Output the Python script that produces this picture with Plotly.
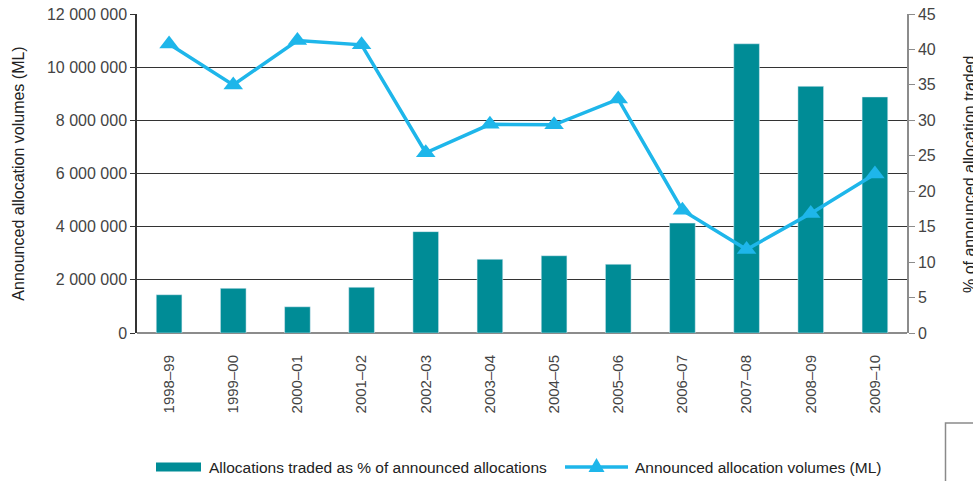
import plotly.graph_objects as go

years = ["1998–99", "1999–00", "2000–01", "2001–02", "2002–03", "2003–04",
         "2004–05", "2005–06", "2006–07", "2007–08", "2008–09", "2009–10"]
pct_traded = [5.4, 6.3, 3.7, 6.45, 14.3, 10.4, 10.9, 9.7, 15.5, 40.8, 34.8, 33.3]
volumes_ml = [10870000, 9330000, 11000000, 10840000, 6780000, 7850000,
              7830000, 8800000, 4620000, 3140000, 4500000, 5980000]

left_ticks = [0, 2000000, 4000000, 6000000, 8000000, 10000000, 12000000]
left_ticktext = ["0", "2 000 000", "4 000 000", "6 000 000", "8 000 000", "10 000 000", "12 000 000"]
right_ticks = [0, 5, 10, 15, 20, 25, 30, 35, 40, 45]

BAR_C = "#008c96"
LINE_C = "#1eb6ea"
TXT_C = "#444444"
FONT = "Liberation Sans, Arial, sans-serif"

W, H = 973, 481
L, R, T, B = 137, 66, 14, 148
PW, PH = W - L - R, H - T - B

def px(x):
    return (x - L) / PW

def py(y):
    return (H - B - y) / PH

fig = go.Figure()
fig.add_trace(go.Bar(x=years, y=pct_traded, yaxis="y", marker_color=BAR_C,
                     width=0.4, name="Allocations traded as % of announced allocations",
                     showlegend=False))
fig.add_trace(go.Scatter(x=years, y=volumes_ml, yaxis="y2", mode="lines+markers",
                         line=dict(color=LINE_C, width=3.5),
                         marker=dict(symbol="triangle-up", size=17, color=LINE_C),
                         name="Announced allocation volumes (ML)", showlegend=False))

shapes = []
annotations = []
# custom legend
ly = 467
shapes.append(dict(type="rect", xref="paper", yref="paper",
                   x0=px(156), x1=px(201), y0=py(471.5), y1=py(462.5),
                   fillcolor=BAR_C, line=dict(width=0)))
annotations.append(dict(xref="paper", yref="paper", x=px(207), y=py(ly), xanchor="left",
                        yanchor="middle", showarrow=False,
                        text="Allocations traded as % of announced allocations",
                        font=dict(family=FONT, size=15.5, color="#222")))
shapes.append(dict(type="line", xref="paper", yref="paper",
                   x0=px(565), x1=px(628), y0=py(ly), y1=py(ly),
                   line=dict(color=LINE_C, width=3.5)))
tx, tw = 596.5, 8
shapes.append(dict(type="path", xref="paper", yref="paper",
                   path=f"M {px(tx - tw)} {py(ly + 5)} L {px(tx)} {py(ly - 9)} L {px(tx + tw)} {py(ly + 5)} Z",
                   fillcolor=LINE_C, line=dict(width=0)))
annotations.append(dict(xref="paper", yref="paper", x=px(633), y=py(ly), xanchor="left",
                        yanchor="middle", showarrow=False,
                        text="Announced allocation volumes (ML)",
                        font=dict(family=FONT, size=15.5, color="#222")))
# right axis title
annotations.append(dict(xref="paper", yref="paper", x=px(970), y=py(174), xanchor="center",
                        yanchor="middle", showarrow=False, textangle=-90,
                        text="% of announced allocation traded",
                        font=dict(family=FONT, size=16, color="#222")))
# partial box bottom-right
shapes.append(dict(type="path", xref="paper", yref="paper",
                   path=f"M {px(945.5)} {py(490)} L {px(945.5)} {py(423)} L {px(990)} {py(423)}",
                   line=dict(color="#8a8a8a", width=1.5)))

fig.update_layout(
    width=W, height=H,
    margin=dict(l=L, r=R, t=T, b=B, pad=0),
    paper_bgcolor="white", plot_bgcolor="white",
    font=dict(family=FONT, size=15, color=TXT_C),
    showlegend=False,
    xaxis=dict(type="category", range=[-0.5, 11.5], tickangle=-90, showgrid=False,
               showline=False, ticks="", tickfont=dict(size=15, color=TXT_C),
               ticklabelstandoff=18, automargin=False),
    yaxis=dict(side="right", range=[0, 45], tickvals=right_ticks, showgrid=False,
               zeroline=False, showline=True, linecolor="#8c8c8c", linewidth=1.5,
               ticks="outside", ticklen=6, tickcolor="#8c8c8c", tickwidth=1,
               tickfont=dict(size=16, color=TXT_C), automargin=False),
    yaxis2=dict(side="left", overlaying="y", range=[0, 12000000], tickvals=left_ticks,
                ticktext=left_ticktext, showgrid=True, gridcolor="#333333", gridwidth=1,
                zeroline=True, zerolinecolor="#8c8c8c", zerolinewidth=2,
                showline=True, linecolor="#333333", linewidth=1.5,
                ticks="outside", ticklen=5, tickcolor="#333333",
                tickfont=dict(size=16, color=TXT_C), automargin=False,
                title=dict(text="Announced allocation volumes (ML)",
                           font=dict(size=16, color="#222"), standoff=18)),
    shapes=shapes,
    annotations=annotations,
)

fig.write_html("out.html", config={"displayModeBar": False},
               post_script="document.body.style.margin='0';document.body.style.overflow='hidden';")
